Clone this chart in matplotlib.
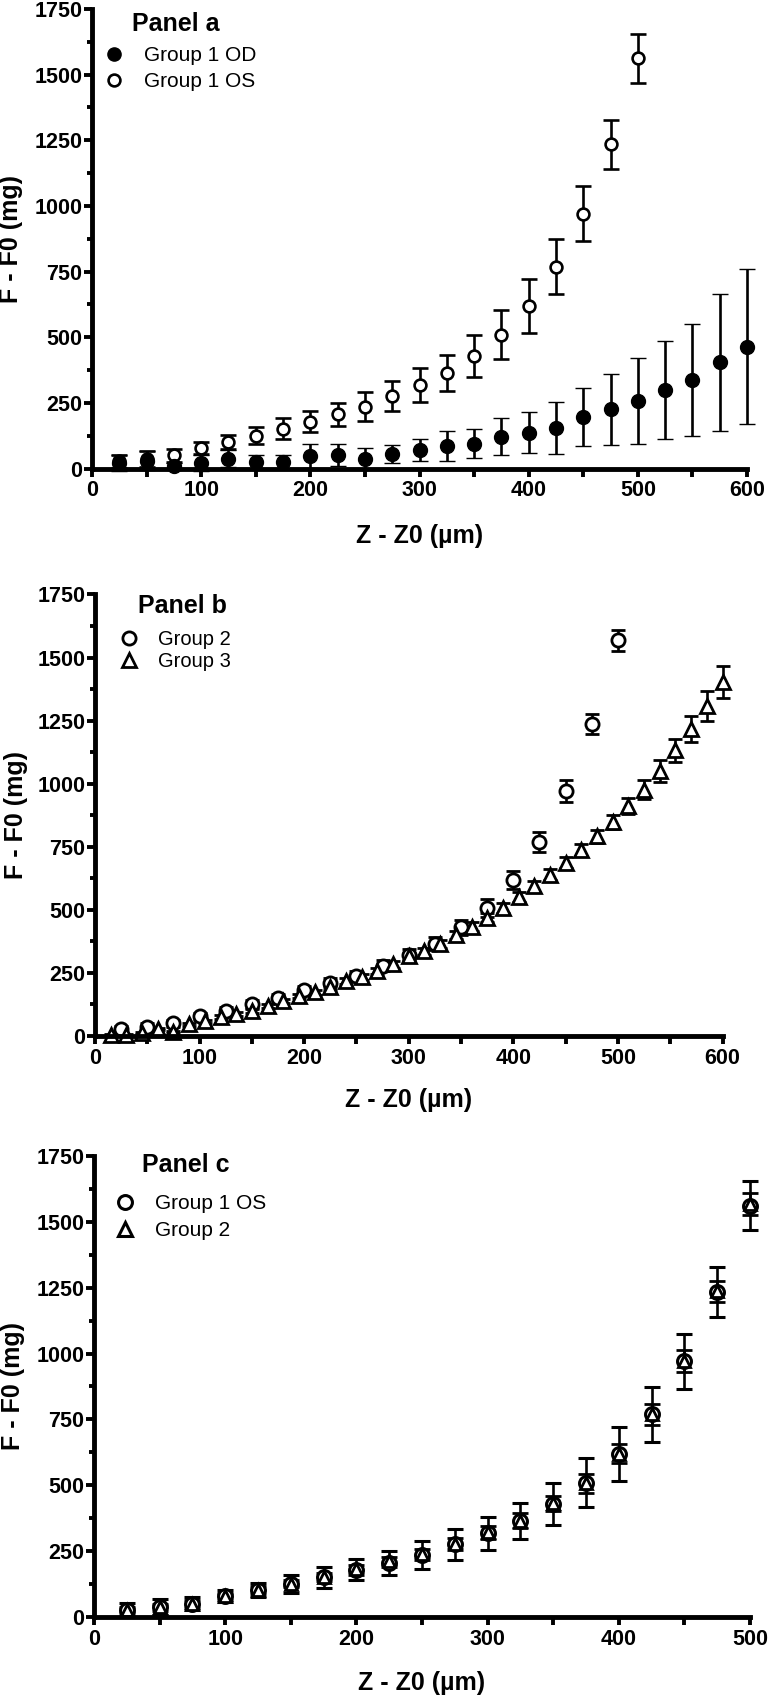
import matplotlib
matplotlib.use('Agg')
import matplotlib.pyplot as plt
from matplotlib.lines import Line2D
from matplotlib.ticker import MultipleLocator

plt.rcParams['font.family'] = ['Liberation Sans', 'DejaVu Sans']
plt.rcParams['font.weight'] = 'bold'

# --- Panel a : Group 1 OD / OS ---
x_od = [25, 50, 75, 100, 125, 150, 175, 200, 225, 250, 275, 300,
        325, 350, 375, 400, 425, 450, 475, 500, 525, 550, 575, 600]
od_mean = [22, 30, 8, 22, 38, 25, 25, 48, 51, 38, 55, 70,
           85, 95, 121, 136, 155, 197, 225, 257, 299, 337, 404, 464]
od_err = [30, 35, 12, 30, 32, 25, 28, 45, 42, 40, 33, 41,
          56, 54, 70, 78, 99, 111, 134, 163, 188, 215, 261, 296]

x_os = [25, 50, 75, 100, 125, 150, 175, 200, 225, 250,
        275, 300, 325, 350, 375, 400, 425, 450, 475, 500]
os_mean = [27, 37, 51, 79, 102, 125, 151, 179, 206, 236,
           276, 317, 365, 429, 510, 618, 769, 970, 1234, 1562]
os_err = [25, 30, 25, 22, 27, 33, 40, 40, 45, 54,
          58, 64, 68, 79, 92, 103, 105, 105, 95, 92]

# --- Panel b : Group 2 / Group 3 ---
x_g2 = x_os
g2_mean = [26, 37, 50, 78, 101, 127, 151, 181, 211, 239,
           279, 321, 366, 431, 508, 619, 769, 972, 1236, 1568]
g2_err = [12, 14, 14, 14, 15, 15, 16, 17, 18, 20,
          22, 24, 27, 30, 36, 36, 41, 43, 39, 41]

x_g3 = [15, 30, 45, 60, 75, 90, 105, 120, 135, 150, 165, 180, 195, 210,
        225, 240, 255, 270, 285, 300, 315, 330, 345, 360, 375, 390, 405,
        420, 435, 450, 465, 480, 495, 510, 525, 540, 555, 570, 585, 600]
g3_mean = [4, 3, 10, 28, 16, 47, 59, 75, 87, 99, 119, 138, 158, 174,
           193, 217, 233, 257, 284, 316, 335, 365, 402, 434, 468, 508, 550,
           593, 639, 687, 738, 791, 848, 911, 977, 1051, 1133, 1216, 1308, 1403]
g3_err = [3, 3, 4, 5, 5, 6, 6, 7, 7, 8, 8, 9, 9, 10,
          10, 11, 12, 12, 13, 14, 15, 15, 16, 17, 18, 19, 20,
          21, 22, 23, 24, 25, 27, 31, 38, 44, 46, 52, 58, 62]

fig = plt.figure(figsize=(7.68, 16.96), dpi=100)

ax_a = fig.add_axes([0.1198, 0.72376, 0.85286, 0.27093])
ax_b = fig.add_axes([0.1237, 0.38915, 0.81706, 0.26032])
ax_c = fig.add_axes([0.1224, 0.04658, 0.85417, 0.27182])


def style(ax, xmax, xlab_y, ylab_x):
    ax.set_xlim(0, xmax)
    ax.set_ylim(0, 1750)
    ax.xaxis.set_major_locator(MultipleLocator(100))
    ax.xaxis.set_minor_locator(MultipleLocator(50))
    ax.yaxis.set_major_locator(MultipleLocator(250))
    ax.yaxis.set_minor_locator(MultipleLocator(125))
    for s in ['top', 'right']:
        ax.spines[s].set_visible(False)
    for s in ['left', 'bottom']:
        ax.spines[s].set_linewidth(3.5)
    ax.tick_params(which='major', direction='out', length=5.5, width=2.8,
                   labelsize=15.5, pad=1.5)
    ax.tick_params(axis='x', which='major', pad=3.0)
    ax.tick_params(axis='x', which='minor', direction='out', length=5.5, width=2.8)
    ax.tick_params(axis='y', which='minor', direction='out', length=3.5, width=2.8)
    ax.set_xlabel('Z - Z0 (µm)', fontsize=18, fontweight='bold', va='baseline')
    ax.set_ylabel('F - F0 (mg)', fontsize=18, fontweight='bold', va='center')
    ax.xaxis.set_label_coords(0.5, xlab_y)
    ax.yaxis.set_label_coords(ylab_x, 0.5)


def legend(ax, handles, labels, x, y, size, spacing):
    ax.legend(handles, labels, loc='upper left', bbox_to_anchor=(x, y),
              frameon=False, borderpad=0, borderaxespad=0, handlelength=1.0,
              handletextpad=0.95, labelspacing=spacing,
              prop={'weight': 'normal', 'size': size})


bar = dict(ecolor='black', elinewidth=1.9, capthick=1.9, clip_on=False)

# Panel a
ax_a.errorbar(x_os, os_mean, yerr=os_err, fmt='o', ms=8.5, mfc='white',
              mec='black', mew=1.9, capsize=5.8, **bar)
ax_a.errorbar(x_od, od_mean, yerr=od_err, fmt='o', ms=10, mfc='black',
              mec='black', mew=1.0, capsize=5.8, **bar)
style(ax_a, 600, -0.1628, -0.1237)
ax_a.text(0.0611, 0.9528, 'Panel a', transform=ax_a.transAxes, fontsize=18,
          fontweight='bold', ha='left', va='baseline')
h_a = [Line2D([], [], ls='none', marker='o', ms=9.5, mfc='black', mec='black'),
       Line2D([], [], ls='none', marker='o', ms=8.5, mfc='white', mec='black', mew=1.9)]
legend(ax_a, h_a, ['Group 1 OD', 'Group 1 OS'], 0.0177, 0.9186, 15, 0.32)

# Panel b
ax_b.errorbar(x_g2, g2_mean, yerr=g2_err, fmt='o', ms=9.5, mfc='white',
              mec='black', mew=2.0, capsize=5.2, **bar)
ax_b.errorbar(x_g3, g3_mean, yerr=g3_err, fmt='^', ms=10, mfc='white',
              mec='black', mew=2.0, capsize=5.2, **bar)
style(ax_b, 600, -0.1608, -0.1259)
ax_b.text(0.0685, 0.9574, 'Panel b', transform=ax_b.transAxes, fontsize=18,
          fontweight='bold', ha='left', va='baseline')
h_b = [Line2D([], [], ls='none', marker='o', ms=9.5, mfc='white', mec='black', mew=2.0),
       Line2D([], [], ls='none', marker='^', ms=10, mfc='white', mec='black', mew=2.0)]
legend(ax_b, h_b, ['Group 2', 'Group 3'], 0.0382, 0.9196, 14.5, 0.15)

# Panel c
ax_c.errorbar(x_os, os_mean, yerr=os_err, fmt='o', ms=10, mfc='white',
              mec='black', mew=2.2, capsize=5.8, **bar)
ax_c.errorbar(x_g2, g2_mean, yerr=g2_err, fmt='^', ms=8.5, mfc='white',
              mec='black', mew=2.0, capsize=5.8, **bar)
style(ax_c, 500, -0.1584, -0.1235)
ax_c.text(0.0732, 0.966, 'Panel c', transform=ax_c.transAxes, fontsize=18,
          fontweight='bold', ha='left', va='baseline')
h_c = [Line2D([], [], ls='none', marker='o', ms=10, mfc='white', mec='black', mew=2.2),
       Line2D([], [], ls='none', marker='^', ms=10, mfc='white', mec='black', mew=2.2)]
legend(ax_c, h_c, ['Group 1 OS', 'Group 2'], 0.0314, 0.9167, 15, 0.37)

fig.savefig('out.png', dpi=100)
plt.close(fig)
